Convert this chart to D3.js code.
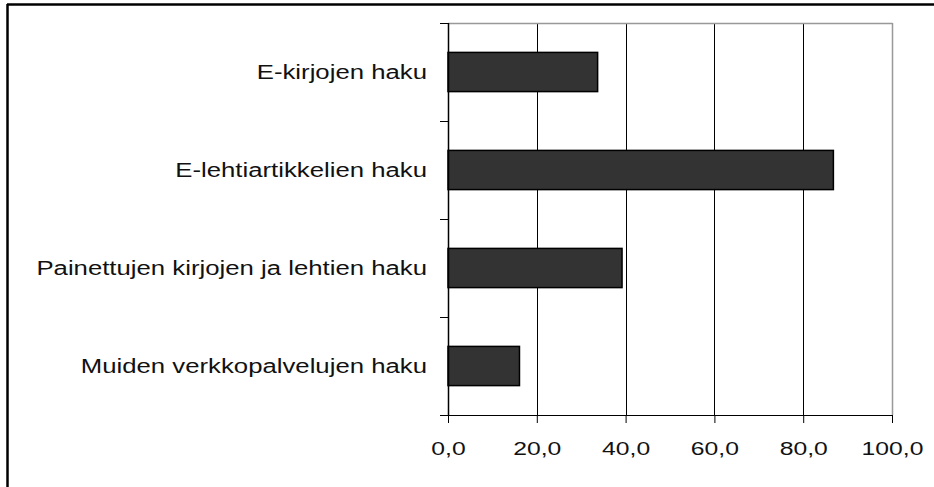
<!DOCTYPE html>
<html>
<head>
<meta charset="utf-8">
<script src="https://cdn.jsdelivr.net/npm/d3@7"></script>
<style>
html,body{margin:0;padding:0;background:#fff;}
svg{display:block;}
text{font-family:"Liberation Sans",Arial,sans-serif;}
</style>
</head>
<body>
<svg id="chart" width="934" height="487"></svg>
<script>
const categories = ["E-kirjojen haku","E-lehtiartikkelien haku","Painettujen kirjojen ja lehtien haku","Muiden verkkopalvelujen haku"];
const values = [33.7, 86.8, 39.2, 16.1];
const xTicks = [0,20,40,60,80,100];

const svg = d3.select("#chart");
const pLeft = 448, pRight = 892, pTop = 23, pBottom = 415;

// outer frame
svg.append("line").attr("x1",7).attr("x2",934).attr("y1",4.5).attr("y2",4.5).attr("stroke","#000").attr("stroke-width",2.5);
svg.append("line").attr("x1",7.5).attr("x2",7.5).attr("y1",4).attr("y2",487).attr("stroke","#000").attr("stroke-width",2.5);

const x = d3.scaleLinear().domain([0,100]).range([pLeft,pRight]);
const y = d3.scaleBand().domain(categories).range([pTop,pBottom]).paddingInner(0.6).paddingOuter(0.3);
const step = y.step();

// gridlines
svg.append("g").selectAll("line").data(xTicks.filter(t=>t>0 && t<100)).join("line")
  .attr("x1",d=>Math.round(x(d))+0.5).attr("x2",d=>Math.round(x(d))+0.5)
  .attr("y1",pTop).attr("y2",pBottom).attr("stroke","#000").attr("stroke-width",1);

// plot border top/right (gray)
svg.append("line").attr("x1",pLeft).attr("x2",pRight+0.5).attr("y1",pTop+0.5).attr("y2",pTop+0.5).attr("stroke","#999").attr("stroke-width",1.5);
svg.append("line").attr("x1",pRight+0.5).attr("x2",pRight+0.5).attr("y1",pTop).attr("y2",pBottom).attr("stroke","#999").attr("stroke-width",1.5);

// bars
svg.append("g").selectAll("rect").data(categories).join("rect")
  .attr("x",x(0)).attr("y",d=>y(d))
  .attr("width",(d,i)=>x(values[i])-x(0)).attr("height",y.bandwidth())
  .attr("fill","#333333").attr("stroke","#000").attr("stroke-width",1.5);

// x axis
const xAxis = d3.axisBottom(x).tickValues(xTicks).tickSize(8)
  .tickFormat(d=>d3.format(".1f")(d).replace(".",","));
const gx = svg.append("g").attr("transform",`translate(0,${pBottom})`).call(xAxis);
gx.select(".domain").attr("d",`M${pLeft-8},0.5H${pRight}`).attr("stroke","#000").attr("stroke-width",1.2);
gx.selectAll(".tick line").attr("stroke","#000");
gx.selectAll("text").attr("font-size",18.6).attr("fill","#111").attr("font-family","Liberation Sans, Arial, sans-serif")
  .attr("y",0).attr("dy",0).attr("transform","translate(0,40) scale(1.33,1)");

// y axis line and ticks at band boundaries
svg.append("line").attr("x1",pLeft+0.5).attr("x2",pLeft+0.5).attr("y1",pTop).attr("y2",pBottom).attr("stroke","#000").attr("stroke-width",1.5);
const bounds = categories.map(c=>y(c)-step*0.3).concat([pBottom]);
svg.append("g").selectAll("line").data(bounds).join("line")
  .attr("x1",pLeft-8).attr("x2",pLeft).attr("y1",d=>Math.round(d)+0.5).attr("y2",d=>Math.round(d)+0.5)
  .attr("stroke","#000").attr("stroke-width",1);

// category labels
svg.append("g").selectAll("text").data(categories).join("text")
  .attr("transform",d=>`translate(${pLeft-21},${y(d)+y.bandwidth()/2+6.6}) scale(1.226,1)`)
  .attr("text-anchor","end")
  .attr("font-size",21).attr("fill","#111").text(d=>d);
</script>
</body>
</html>
